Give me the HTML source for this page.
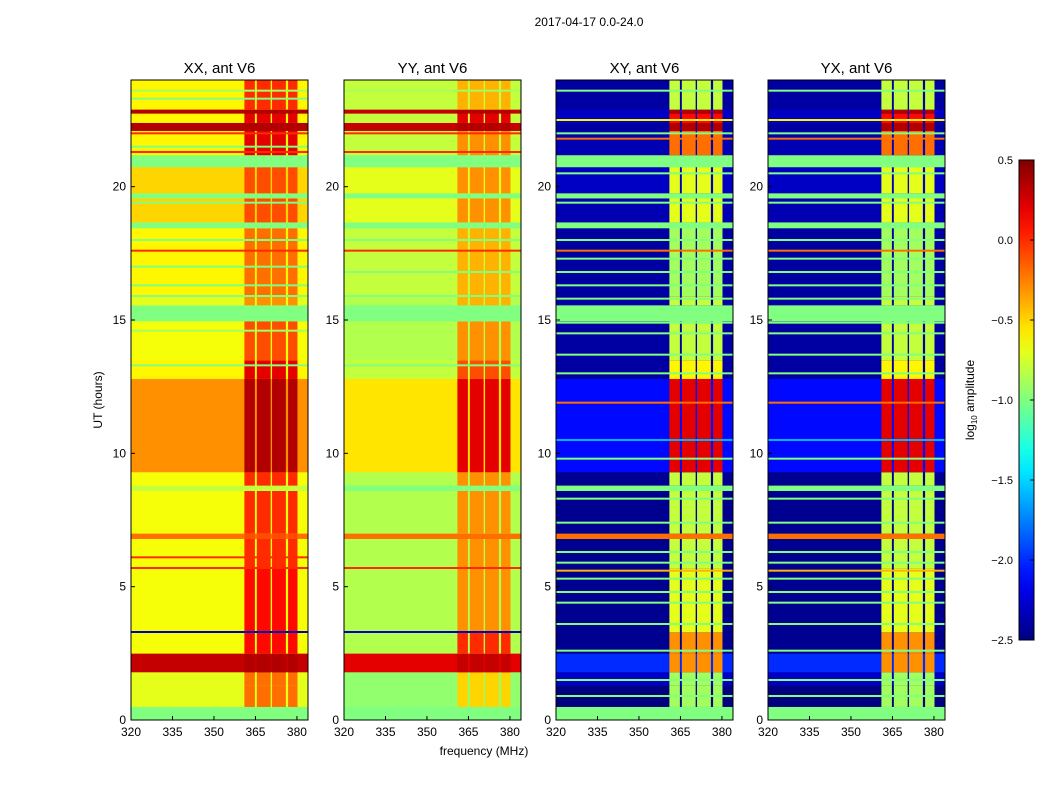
<!DOCTYPE html>
<html><head><meta charset="utf-8"><style>
body{margin:0;background:#fff;width:1050px;height:800px;overflow:hidden}
svg text{font-family:"Liberation Sans",sans-serif}
</style></head><body>
<svg id="chart" width="1050" height="800" xmlns="http://www.w3.org/2000/svg"></svg>
<script>
// ---- data ----
const panelNames = ["XX, ant V6","YY, ant V6","XY, ant V6","YX, ant V6"];
const segT = [0,0.5,1.3,1.8,2.5,3.3,5.7,6.8,7.0,8.6,8.8,9.3,12.8,13.5,14.96,15.56,15.9,18.45,18.67,19.57,19.76,20.74,21.19,22.1,22.4,22.75,22.9,24];
const bgXX = [-1.0,-0.7,-0.7,0.3,-0.65,-0.65,-0.65,-0.2,-0.65,-0.8,-0.65,-0.3,-0.6,-0.65,-1.0,-0.7,-0.6,-1.0,-0.5,-1.0,-0.5,-1.0,-0.6,0.35,-0.6,0.35,-0.6];
const rfXX = [-1.0,-0.2,-0.2,0.35,0.1,0.1,0.0,-0.1,0.0,-0.8,0.0,0.35,0.2,-0.1,-1.0,-0.3,-0.2,-1.0,-0.1,-1.0,-0.1,-1.0,0.2,0.35,0.2,0.35,0.0];
const bgYY = [-1.0,-0.95,-0.95,0.2,-0.85,-0.85,-0.85,-0.2,-0.85,-1.0,-0.85,-0.55,-0.8,-0.85,-1.0,-0.85,-0.8,-1.0,-0.7,-1.0,-0.7,-1.0,-0.8,0.3,-0.8,0.3,-0.8];
const rfYY = [-1.0,-0.5,-0.5,0.3,0.0,-0.3,-0.3,-0.2,-0.3,-1.0,-0.3,0.2,-0.1,-0.3,-1.0,-0.4,-0.4,-1.0,-0.3,-1.0,-0.3,-1.0,-0.3,0.35,0.2,0.35,-0.4];
const bgXY = [-1.0,-2.5,-2.3,-2.0,-2.45,-2.45,-2.45,-0.2,-2.45,-1.0,-2.45,-2.1,-2.4,-2.4,-1.0,-2.4,-2.4,-1.0,-2.35,-1.0,-2.3,-1.0,-2.35,-2.4,-2.3,-2.3,-2.4];
const rfXY = [-1.0,-0.9,-0.9,-0.3,-0.3,-0.7,-0.8,-0.2,-0.8,-1.0,-0.8,0.2,-0.6,-0.8,-1.0,-0.8,-0.9,-1.0,-0.7,-1.0,-0.7,-1.0,-0.2,0.35,0.1,0.35,-0.8];
const bgYX = bgXY.slice();
const rfYX = rfXY.slice();
const rfiCols = [[361,364.8],[365.5,370.5],[371,376],[376.8,380.2]];
const linesXX = [[21.3,0.0],[17.6,0.0],[5.7,0.0],[6.1,0.0],[3.3,-2.3],[23.6,-0.9],[13.3,-1.0],[14.6,-0.9],[15.9,-1.0],[16.3,-1.0],[17.0,-1.0],[18.0,-1.0],[19.4,-1.0],[21.5,-1.0],[22.0,0.0],[23.3,-1.0]];
const linesYY = [[21.3,0.0],[17.6,0.0],[5.7,0.0],[3.3,-2.3],[23.6,-0.9],[13.3,-1.0],[15.9,-1.0],[16.8,-1.0],[18.0,-1.0],[22.0,0.0]];
const linesX = [[0.9,-1.0],[1.5,-1.0],[2.6,-1.0],[3.6,-1.0],[4.4,-1.0],[4.8,-1.0],[5.3,-1.0],[5.9,-1.0],[6.3,-1.0],[7.4,-1.0],[8.3,-1.0],[9.8,-1.0],[10.5,-1.6],[13.0,-1.0],[13.7,-1.0],[14.5,-1.0],[14.9,-1.0],[15.8,-1.0],[16.3,-1.0],[16.8,-1.0],[17.3,-1.0],[18.0,-1.0],[19.4,-1.0],[20.5,-1.0],[22.0,-1.0],[23.6,-1.0],[6.9,-0.2],[17.6,-0.2],[21.8,-0.2],[11.9,-0.2],[5.6,-0.4],[22.5,-0.6]];
const bgData = [bgXX,bgYY,bgXY,bgYX];
const rfData = [rfXX,rfYY,rfXY,rfYX];
const lineData = [linesXX,linesYY,linesX,linesX];
const yTicks = [0,5,10,15,20];
const xTicks = [320,335,350,365,380];
const cbTicks = [0.5,0.0,-0.5,-1.0,-1.5,-2.0,-2.5];
// ---- layout ----
const panelX = [131,344,556,768], panelW = 177, pTop = 80, pBot = 720;
const fMin = 320, fMax = 384, tMin = 0, tMax = 24, vMin = -2.5, vMax = 0.5;
const NS = "http://www.w3.org/2000/svg";
const svg = document.getElementById('chart');
function el(tag, attrs, parent){const e=document.createElementNS(NS,tag);for(const k in attrs)e.setAttribute(k,attrs[k]);(parent||svg).appendChild(e);return e;}
function jet(v){let x=(v-vMin)/(vMax-vMin);x=Math.max(0,Math.min(1,x));
 const c=t=>Math.round(255*Math.max(0,Math.min(1,t)));
 return `rgb(${c(1.5-Math.abs(4*x-3))},${c(1.5-Math.abs(4*x-2))},${c(1.5-Math.abs(4*x-1))})`;}
const yS = t => pBot - (t-tMin)/(tMax-tMin)*(pBot-pTop);
function xS(i){return f => panelX[i] + (f-fMin)/(fMax-fMin)*panelW;}
const t1 = el('text',{x:589,y:26,'font-size':12,'text-anchor':'middle'});
t1.textContent='2017-04-17 0.0-24.0';

for(let p=0;p<4;p++){
 const g=el('g',{});
 
 
 const xs=xS(p);
 for(let s=0;s<segT.length-1;s++){
  const y0=yS(segT[s+1]),y1=yS(segT[s]);
  const r=el('rect',{x:xs(fMin),y:y0,width:xs(fMax)-xs(fMin),height:y1-y0+0.3,fill:jet(bgData[p][s])},g);
  
  for(const c of rfiCols){
   const q=el('rect',{x:xs(c[0]),y:y0,width:xs(c[1])-xs(c[0]),height:y1-y0+0.3,fill:jet(rfData[p][s])},g);
   
  }
 }
 for(const L of lineData[p]){
  const ln=el('rect',{x:xs(fMin),y:yS(L[0])-1,width:panelW,height:2,fill:jet(L[1])},g);
  
 }
 const fr=el('rect',{x:panelX[p],y:pTop,width:panelW,height:pBot-pTop,fill:'none',stroke:'#000','stroke-width':1},g);
 
 const tt=el('text',{x:panelX[p]+panelW/2,y:73,'font-size':15,'text-anchor':'middle'},g);
 tt.textContent=panelNames[p];
 
 for(const t of yTicks){
  el('line',{x1:panelX[p],x2:panelX[p]+4,y1:yS(t),y2:yS(t),stroke:'#000'},g);
  const tx=el('text',{x:panelX[p]-5,y:yS(t)+4,'font-size':12,'text-anchor':'end'},g);
  tx.textContent=t;
 }
 for(const f of xTicks){
  el('line',{x1:xs(f),x2:xs(f),y1:pBot,y2:pBot-4,stroke:'#000'},g);
  const tx=el('text',{x:xs(f),y:736,'font-size':12,'text-anchor':'middle'},g);
  tx.textContent=f;
 }
}
const yl=el('text',{x:102,y:400,'font-size':12,'text-anchor':'middle',transform:'rotate(-90 102 400)'});
yl.textContent='UT (hours)';
const xl=el('text',{x:484,y:755,'font-size':12,'text-anchor':'middle'});
xl.textContent='frequency (MHz)';
// colorbar
const cbX=1019,cbW=15,cbT=160,cbB=640;
const defs=el('defs',{});const lg=el('linearGradient',{id:'jetg',x1:0,y1:1,x2:0,y2:0},defs);
for(let i=0;i<=20;i++){el('stop',{offset:i/20,'stop-color':jet(vMin+(vMax-vMin)*i/20)},lg);}
const cb=el('rect',{x:cbX,y:cbT,width:cbW,height:cbB-cbT,fill:'url(#jetg)',stroke:'#000'});

const cbY=v=>cbB-(v-vMin)/(vMax-vMin)*(cbB-cbT);
for(const v of cbTicks){
 el('line',{x1:cbX+cbW-4,x2:cbX+cbW,y1:cbY(v),y2:cbY(v),stroke:'#000'});
 const tx=el('text',{x:1013,y:cbY(v)+4,'font-size':11,'text-anchor':'end'});
 tx.textContent=v.toFixed(1).replace('-','\u2212');
 
}
const cl=el('text',{x:974,y:400,'font-size':12,'text-anchor':'middle',transform:'rotate(-90 974 400)'});
cl.innerHTML='log<tspan font-size="8" dy="3">10</tspan><tspan dy="-3"> amplitude</tspan>';

</script>
</body></html>
